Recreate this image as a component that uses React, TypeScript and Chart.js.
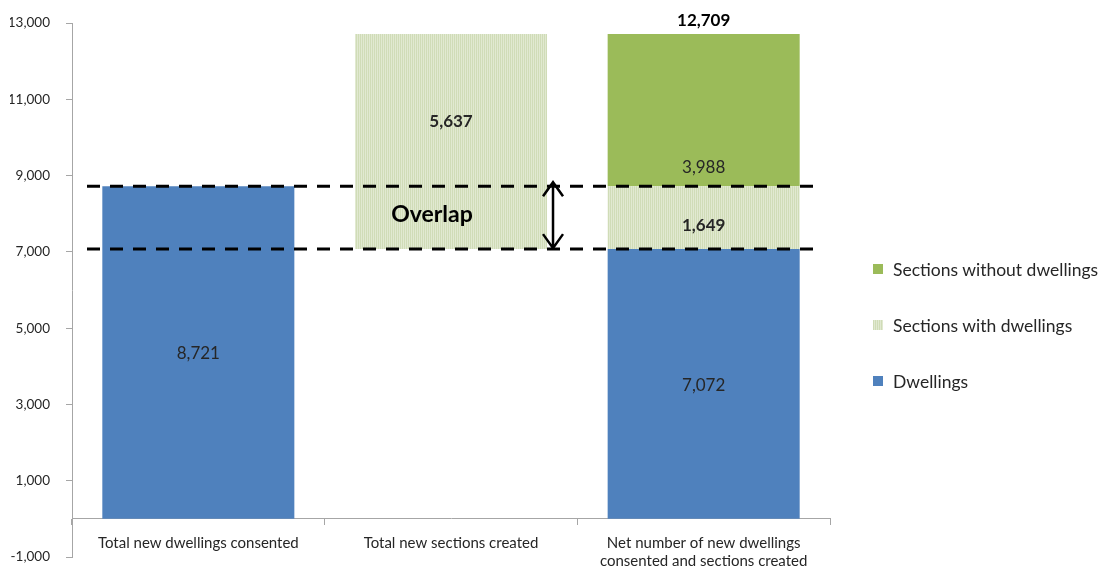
import React, { useEffect, useRef } from 'react';
import { Chart, registerables } from 'chart.js';

Chart.register(...registerables);

// ---------- data ----------
const categories: (string | string[])[] = [
  'Total new dwellings consented',
  'Total new sections created',
  ['Net number of new dwellings', 'consented and sections created'],
];
const dwellings = [8721, null, 7072];
const sectionsBase = [null, 7072, null]; // invisible base of the floating "sections created" bar
const sectionsWithDwellings = [null, 5637, 1649];
const sectionsWithoutDwellings = [null, null, 3988];
const overlapLevels = [8721, 7072];
const yMin = -1000;
const yMax = 13000;
const yStep = 2000;
const seriesNames = ['Dwellings', 'Sections with dwellings', 'Sections without dwellings'];

// ---------- styles ----------
const FONT = 'Lato, "Open Sans", "DejaVu Sans", sans-serif';
const BLUE = '#4F81BD';
const GREEN = '#9BBB59';
const HATCH_A = '#D0DCB7';
const HATCH_B = '#E1E9D1';
const AXIS = '#A6A6A6';
const TEXT = '#262626';

// label placement tweaks keyed by "datasetIndex-dataIndex"
const labelTweaks: Record<string, { dy: number; bold?: boolean; anchor?: 'center' | 'start' }> = {
  '0-0': { dy: 1 },
  '0-2': { dy: 2 },
  '2-1': { dy: -20, bold: true },
  '2-2': { dy: 8, bold: true },
  '3-2': { dy: -19, anchor: 'start' },
};

function makeHatch(): CanvasPattern | string {
  const c = document.createElement('canvas');
  c.width = 2;
  c.height = 2;
  const g = c.getContext('2d');
  if (!g) return HATCH_A;
  g.fillStyle = HATCH_A;
  g.fillRect(0, 0, 1, 2);
  g.fillStyle = HATCH_B;
  g.fillRect(1, 0, 1, 2);
  return g.createPattern(c, 'repeat') || HATCH_A;
}

const fmt = (v: number) => v.toLocaleString('en-US');

const overlayPlugin = {
  id: 'overlay',
  afterDatasetsDraw(chart: any) {
    const { ctx, chartArea } = chart;
    const y = chart.scales.y;
    ctx.save();

    // dashed overlap lines
    ctx.setLineDash([13, 10]);
    ctx.lineWidth = 3;
    ctx.strokeStyle = '#000';
    overlapLevels.forEach((v) => {
      const py = y.getPixelForValue(v);
      ctx.beginPath();
      ctx.moveTo(chartArea.left + 15, py);
      ctx.lineTo(chartArea.right - 11, py);
      ctx.stroke();
    });
    ctx.setLineDash([]);

    // double arrow next to the sections bar
    const secEl = chart.getDatasetMeta(2).data[1];
    const ax = secEl.x + secEl.width / 2 + 6;
    const yTop = y.getPixelForValue(Math.max(...overlapLevels)) - 4;
    const yBot = y.getPixelForValue(Math.min(...overlapLevels)) - 1;
    ctx.lineWidth = 2.5;
    ctx.strokeStyle = '#000';
    ctx.beginPath();
    ctx.moveTo(ax, yTop);
    ctx.lineTo(ax, yBot);
    ctx.moveTo(ax - 10, yTop + 14);
    ctx.lineTo(ax, yTop);
    ctx.lineTo(ax + 10, yTop + 14);
    ctx.moveTo(ax - 10, yBot - 14);
    ctx.lineTo(ax, yBot);
    ctx.lineTo(ax + 10, yBot - 14);
    ctx.stroke();

    // "Overlap" text
    ctx.fillStyle = '#000';
    ctx.font = `bold 23px ${FONT}`;
    ctx.textAlign = 'center';
    ctx.textBaseline = 'middle';
    ctx.fillText('Overlap', secEl.x - 19, (yTop + yBot) / 2 - 1);

    // segment value labels
    chart.data.datasets.forEach((ds: any, di: number) => {
      if (ds.hideLabel) return;
      const meta = chart.getDatasetMeta(di);
      meta.data.forEach((el: any, i: number) => {
        const v = ds.data[i];
        if (v == null) return;
        const t = labelTweaks[`${di}-${i}`] || { dy: 0 };
        const cy = t.anchor === 'start' ? el.base : (el.y + el.base) / 2;
        ctx.font = `${t.bold ? 'bold ' : ''}17px ${FONT}`;
        ctx.fillStyle = TEXT;
        ctx.fillText(fmt(v), el.x, cy + t.dy);
      });
    });

    // stack total above the last bar
    const topEl = chart.getDatasetMeta(3).data[2];
    const total = [dwellings[2], sectionsWithDwellings[2], sectionsWithoutDwellings[2]].reduce(
      (a: number, b) => a + (b || 0),
      0
    );
    ctx.font = `bold 17px ${FONT}`;
    ctx.fillStyle = '#000';
    ctx.fillText(fmt(total), topEl.x, topEl.y - 14);

    ctx.restore();
  },
};

export default function App() {
  const canvasRef = useRef<HTMLCanvasElement | null>(null);

  useEffect(() => {
    if (!canvasRef.current) return;
    const hatch = makeHatch();
    Chart.defaults.font.family = FONT;
    const chart = new Chart(canvasRef.current, {
      type: 'bar',
      data: {
        labels: categories as any,
        datasets: [
          { label: seriesNames[0], data: dwellings as any, backgroundColor: BLUE },
          { label: 'base', data: sectionsBase as any, backgroundColor: 'rgba(0,0,0,0)', hideLabel: true } as any,
          { label: seriesNames[1], data: sectionsWithDwellings as any, backgroundColor: hatch as any },
          { label: seriesNames[2], data: sectionsWithoutDwellings as any, backgroundColor: GREEN },
        ],
      },
      options: {
        animation: false,
        responsive: true,
        maintainAspectRatio: false,
        datasets: { bar: { barPercentage: 0.76, categoryPercentage: 1 } },
        layout: { padding: { left: 10, right: 272, top: 0, bottom: 0 } },
        plugins: { legend: { display: false }, tooltip: { enabled: false } },
        scales: {
          x: {
            type: 'category',
            stacked: true,
            position: { y: 0 } as any,
            offset: true,
            grid: { offset: true, drawOnChartArea: false, drawTicks: true, tickLength: 6, color: AXIS },
            border: { color: AXIS },
            ticks: {
              autoSkip: false,
              maxRotation: 0,
              padding: 9,
              color: TEXT,
              font: { size: 15, lineHeight: 1.2 },
            },
            afterFit: (s: any) => {
              s.paddingLeft = 0;
              s.paddingRight = 0;
              s.paddingTop = 0;
              s.paddingBottom = 0;
            },
          } as any,
          y: {
            stacked: true,
            min: yMin,
            max: yMax,
            ticks: { stepSize: yStep, padding: 16, color: TEXT, font: { size: 13.5 } },
            grid: { drawOnChartArea: false, drawTicks: true, tickLength: 6, color: AXIS },
            border: { color: AXIS },
            afterFit: (s: any) => {
              s.width = 62;
              s.paddingTop = 23;
              s.paddingBottom = 11;
            },
          } as any,
        },
      },
      plugins: [overlayPlugin],
    });
    return () => chart.destroy();
  }, []);

  const legendItems = [
    { name: seriesNames[2], bg: GREEN },
    { name: seriesNames[1], bg: `repeating-linear-gradient(90deg, ${HATCH_A} 0px, ${HATCH_A} 1px, ${HATCH_B} 1px, ${HATCH_B} 2px)` },
    { name: seriesNames[0], bg: BLUE },
  ];

  return (
    <div style={{ position: 'absolute', left: 0, top: 0, width: 1102, height: 568, background: '#fff' }}>
      <canvas ref={canvasRef} />
      {legendItems.map((it, i) => (
        <div
          key={it.name}
          style={{
            position: 'absolute',
            left: 873,
            top: 269 + i * 56 - 11,
            height: 22,
            display: 'flex',
            alignItems: 'center',
            fontFamily: FONT,
            fontSize: 17.5,
            color: TEXT,
            whiteSpace: 'nowrap',
          }}
        >
          <span style={{ display: 'inline-block', width: 10, height: 10, background: it.bg, marginRight: 10 }} />
          <span>{it.name}</span>
        </div>
      ))}
    </div>
  );
}
